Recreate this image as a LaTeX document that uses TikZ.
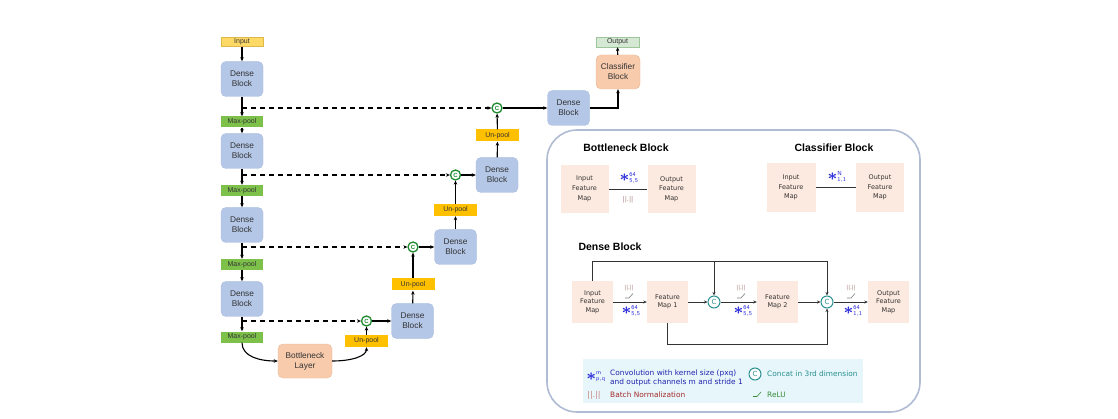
\documentclass[tikz,border=0pt]{standalone}
\usepackage{fontspec}
\usepackage{graphicx}
\usepackage{bm}
\setmainfont{Liberation Sans}
\newfontfamily\dvs{DejaVu Sans}
\usetikzlibrary{arrows.meta}
\definecolor{denseblue}{HTML}{B4C7E7}
\definecolor{denseborder}{HTML}{A5B9DD}
\definecolor{inyellow}{HTML}{FFD966}
\definecolor{inborder}{HTML}{DDB94A}
\definecolor{maxgreen}{HTML}{7DC14B}
\definecolor{unpool}{HTML}{FFC000}
\definecolor{peach}{HTML}{F8CBAD}
\definecolor{peachborder}{HTML}{E8B898}
\definecolor{outgreen}{HTML}{D5E8D4}
\definecolor{outborder}{HTML}{9DC79B}
\definecolor{cgreen}{HTML}{1E8B30}
\definecolor{panelborder}{HTML}{B0BCD4}
\definecolor{fmfill}{HTML}{FCE9DF}
\definecolor{legfill}{HTML}{E6F6FA}
\definecolor{tealc}{HTML}{2A8F8F}
\definecolor{convblue}{HTML}{2B2BD9}
\definecolor{bnred}{HTML}{A52A2A}
\definecolor{bnfade}{HTML}{A88080}
\definecolor{txt}{HTML}{333333}
\definecolor{relugreen}{HTML}{3A8A3A}
\newcommand{\cv}[2]{\textcolor{convblue}{$\vcenter{\hbox{\scalebox{2}{$\bm{\ast}$}}}^{\mathsf{#1}}_{\mathsf{#2}}$}}
\newcommand{\bnsym}{{\dvs ||.||}}
\begin{document}
\begin{tikzpicture}[x=1pt,y=-1pt,
  arr/.style={line width=1.1pt,-{Stealth[length=4pt,width=3.5pt]}},
  dasharr/.style={arr,dash pattern=on 5pt off 4pt},
  thin arr/.style={line width=0.7pt,-{Stealth[length=3.5pt,width=3pt]}},
  dense/.style={rectangle,rounded corners=5pt,fill=denseblue,draw=denseborder,line width=0.4pt,minimum width=42pt,minimum height=35pt,inner sep=0pt,align=center,font=\fontsize{8.3}{10}\selectfont,text=txt},
  maxpool/.style={rectangle,fill=maxgreen,minimum width=42pt,minimum height=11pt,inner sep=0pt,font=\fontsize{7}{8}\selectfont,text=txt},
  unpoolbox/.style={rectangle,fill=unpool,minimum width=43pt,minimum height=12pt,inner sep=0pt,font=\fontsize{7}{8}\selectfont,text=txt},
  peachbox/.style={rectangle,rounded corners=5pt,fill=peach,draw=peachborder,line width=0.4pt,minimum width=54pt,minimum height=34pt,inner sep=0pt,align=center,font=\fontsize{8.3}{10}\selectfont,text=txt},
  cat/.style={circle,draw=cgreen,fill=white,line width=1.3pt,minimum size=10pt,inner sep=0pt,font=\fontsize{6}{6}\selectfont\bfseries,text=cgreen},
  fm/.style={rectangle,fill=fmfill,minimum width=48pt,minimum height=48pt,inner sep=0pt,align=center,font=\dvs\fontsize{6.5}{9.7}\selectfont,text=txt},
  dfm/.style={fm,minimum width=41pt,minimum height=42pt,font=\dvs\fontsize{6.5}{8.6}\selectfont},
  tcat/.style={circle,draw=tealc,fill=white,line width=1pt,minimum size=12pt,inner sep=0pt,font=\dvs\fontsize{7}{7}\selectfont,text=tealc},
  ptitle/.style={font=\fontsize{10.5}{12}\selectfont\bfseries,text=black},
  lbl/.style={inner sep=0pt,font=\fontsize{8}{9}\selectfont},
  bnlbl/.style={inner sep=0pt,text=bnfade,font=\fontsize{5.5}{6}\selectfont},
  legtext/.style={inner sep=0pt,anchor=west,font=\dvs\fontsize{7.4}{8}\selectfont},
  relu/.pic={\draw[line width=0.6pt,pic actions] (-4,0) -- (0,0) -- (4,-4.5);}
]
\useasboundingbox (0,0) rectangle (1118,419);
\fill[white] (0,0) rectangle (1118,419);

% ---------- left column ----------
\node[rectangle,fill=inyellow,draw=inborder,line width=0.4pt,minimum width=42pt,minimum height=9pt,inner sep=0pt,font=\fontsize{7}{8}\selectfont,text=txt] (in) at (242,42) {Input};
\node[dense] (d1) at (242,79) {Dense\\Block};
\node[maxpool] (mp1) at (242,122) {Max-pool};
\node[dense] (d2) at (242,151) {Dense\\Block};
\node[maxpool] (mp2) at (242,190.5) {Max-pool};
\node[dense] (d3) at (242,225) {Dense\\Block};
\node[maxpool] (mp3) at (242,264.5) {Max-pool};
\node[dense] (d4) at (242,299) {Dense\\Block};
\node[maxpool] (mp4) at (242,337) {Max-pool};
\node[peachbox] (bl) at (305,361) {Bottleneck\\Layer};

% ---------- up path ----------
\node[unpoolbox] (up1) at (366.5,341) {Un-pool};
\node[cat] (c1) at (366.5,321) {C};
\node[dense] (r1) at (412.5,321) {Dense\\Block};
\node[unpoolbox] (up2) at (413,284.5) {Un-pool};
\node[cat] (c2) at (413,247) {C};
\node[dense] (r2) at (455.5,247) {Dense\\Block};
\node[unpoolbox] (up3) at (455.5,210) {Un-pool};
\node[cat] (c3) at (455.5,175) {C};
\node[dense] (r3) at (497,175) {Dense\\Block};
\node[unpoolbox] (up4) at (497.5,135.5) {Un-pool};
\node[cat] (c4) at (497,108) {C};
\node[dense] (r4) at (568.5,108) {Dense\\Block};
\node[peachbox,minimum width=44pt] (cls) at (618,72) {Classifier\\Block};
\node[rectangle,fill=outgreen,draw=outborder,line width=0.4pt,minimum width=43pt,minimum height=10pt,inner sep=0pt,font=\fontsize{7}{8}\selectfont,text=txt] (out) at (617.5,42) {Output};

\coordinate (j1) at (242,108);
\coordinate (j2) at (242,175);
\coordinate (j3) at (242,247);
\coordinate (j4) at (242,321);

\draw[arr] (in) -- (d1);
\draw[arr] (d1) -- (mp1);
\draw[arr] (mp1) -- (d2);
\draw[arr] (d2) -- (mp2);
\draw[arr] (mp2) -- (d3);
\draw[arr] (d3) -- (mp3);
\draw[arr] (mp3) -- (d4);
\draw[arr] (d4) -- (mp4);
\draw[dasharr] (j1) -- (c4);
\draw[dasharr] (j2) -- (c3);
\draw[dasharr] (j3) -- (c2);
\draw[dasharr] (j4) -- (c1);
\draw[arr] (mp4.south) .. controls +(0,14) and +(-18,0) .. (bl.west);
\draw[arr] (bl.east) .. controls +(22,0) and +(0,8) .. (up1.south);
\draw[arr] (up1) -- (c1);
\draw[arr] (c1) -- (r1);
\draw[arr] (r1) -- (up2);
\draw[arr] (up2) -- (c2);
\draw[arr] (c2) -- (r2);
\draw[arr] (r2) -- (up3);
\draw[arr] (up3) -- (c3);
\draw[arr] (c3) -- (r3);
\draw[arr] (r3) -- (up4);
\draw[arr] (up4) -- (c4);
\draw[arr] (c4) -- (r4);
\draw[arr] (r4.east) -| (cls.south);
\draw[arr] (cls) -- (out);

% ---------- panel ----------
\draw[panelborder,line width=1.6pt,rounded corners=30pt] (547,130) rectangle (920,412);

% Bottleneck block
\node[ptitle] (tb) at (626,148) {Bottleneck Block};
\node[fm] (bin) at (584.5,189) {Input\\Feature\\Map};
\node[fm] (bout) at (671.5,189) {Output\\Feature\\Map};
\draw[line width=0.6pt,txt] (bin.east) -- (bout.west);
\node[lbl] (bconv) at (629,178) {\cv{64}{5,5}};
\node[bnlbl,font=\fontsize{6.5}{7}\selectfont] (bbn) at (628,200) {\bnsym};

% Classifier block
\node[ptitle] (tc) at (834,148) {Classifier Block};
\node[fm,minimum width=49pt,minimum height=49pt] (cin) at (791,187.5) {Input\\Feature\\Map};
\node[fm,minimum height=49pt] (cout) at (880,187.5) {Output\\Feature\\Map};
\draw[line width=0.6pt,txt] (cin.east) -- (cout.west);
\node[lbl] (cconv) at (837,177) {\cv{N}{1,1}};

% Dense block
\node[ptitle,anchor=west] (td) at (575,247) {Dense Block};
\node[dfm] (din) at (592.5,302) {Input\\Feature\\Map};
\node[dfm] (fm1) at (667.5,302) {Feature\\Map 1};
\node[tcat] (cc1) at (714,302) {C};
\node[dfm] (fm2) at (777.5,302) {Feature\\Map 2};
\node[tcat] (cc2) at (827,302) {C};
\node[dfm] (dout) at (888.5,302) {Output\\Feature\\Map};

\draw[thin arr,txt] (din) -- (fm1);
\draw[thin arr,txt] (fm1) -- (cc1);
\draw[thin arr,txt] (cc1) -- (fm2);
\draw[thin arr,txt] (fm2) -- (cc2);
\draw[thin arr,txt] (cc2) -- (dout);
\coordinate (topl) at (592.5,261);
\draw[thin arr,txt] (din.north) -- (topl) -| (cc2.north);
\draw[thin arr,txt] (topl -| cc1) -- (cc1.north);
\draw[thin arr,txt] (fm1.south) -- ++(0,21) -| (cc2.south);

\node[bnlbl] (bn1) at (629,288) {\bnsym};
\pic[draw=gray] at (629,298) {relu};
\node[lbl] (cv1) at (631,311) {\cv{64}{5,5}};
\node[bnlbl] (bn2) at (741,288) {\bnsym};
\pic[draw=gray] at (741,298) {relu};
\node[lbl] (cv2) at (743,311) {\cv{64}{5,5}};
\node[bnlbl] (bn3) at (851,288) {\bnsym};
\pic[draw=gray] at (851,298) {relu};
\node[lbl] (cv3) at (853,311) {\cv{64}{1,1}};

% Legend
\fill[legfill] (583,359) rectangle (863,403);
\node[lbl] (lconv) at (596,377) {\cv{m}{p,q}};
\node[legtext,text=convblue!80!black] (l1) at (610,373) {Convolution with kernel size (pxq)};
\node[legtext,text=convblue!80!black] (l2) at (610,382.5) {and output channels m and stride 1};
\node[inner sep=0pt,text=bnred!60!white,font=\fontsize{8}{9}\selectfont] (lbn) at (594,395) {\bnsym};
\node[legtext,text=bnred] (l3) at (610,395) {Batch Normalization};
\node[tcat,minimum size=12pt] (lc) at (755,374) {C};
\node[legtext,text=tealc] (l4) at (767,374) {Concat in 3rd dimension};
\pic[draw=relugreen] at (757,396.5) {relu};
\node[legtext,text=relugreen] (l5) at (767,394.5) {ReLU};
\end{tikzpicture}
\end{document}
